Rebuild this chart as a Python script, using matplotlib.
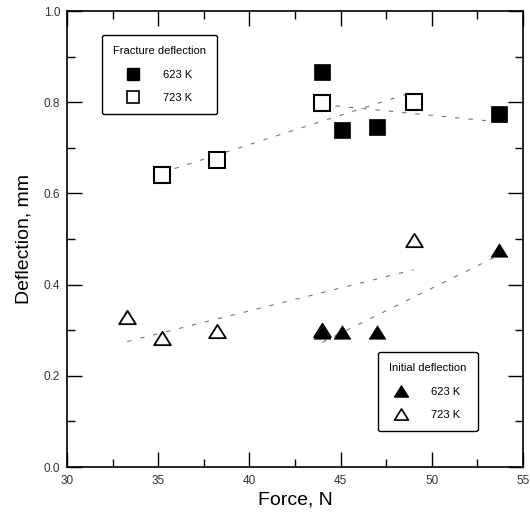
import numpy as np
import matplotlib
matplotlib.use('Agg')
import matplotlib.pyplot as plt
from matplotlib.lines import Line2D
from matplotlib.path import Path

plt.rcParams['font.family'] = ['Liberation Sans', 'DejaVu Sans']

# Fracture deflection, squares
frac_623_force = [44.0, 45.1, 47.0, 53.7]
frac_623_defl = [0.866, 0.739, 0.746, 0.774]
frac_723_force = [35.2, 38.2, 44.0, 49.0]
frac_723_defl = [0.640, 0.673, 0.798, 0.800]

# Initial deflection, triangles
init_623_force = [44.0, 45.1, 47.0, 53.7]
init_623_defl = [0.297, 0.297, 0.297, 0.476]
init_723_force = [33.3, 35.2, 38.2, 44.0, 49.0]
init_723_defl = [0.328, 0.284, 0.299, 0.300, 0.498]

xticks = [30, 35, 40, 45, 50, 55]
yticks = [0.0, 0.2, 0.4, 0.6, 0.8, 1.0]

# wide, flat triangle marker
tri = Path([(-1, -0.8), (1, -0.8), (0, 0.8), (-1, -0.8)],
           [Path.MOVETO, Path.LINETO, Path.LINETO, Path.CLOSEPOLY])

fig = plt.figure(figsize=(5.3, 5.15), dpi=100)
ax = fig.add_axes([0.1264, 0.0932, 0.8604, 0.8854])


def fit_line(x, y):
    # linear least-squares fit drawn over the data range
    k, b = np.polyfit(x, y, 1)
    xs = np.linspace(min(x), max(x), 50)
    ax.plot(xs, k * xs + b, color='#777777', lw=0.8, dashes=(4, 8), zorder=1)


fit_line(frac_623_force, frac_623_defl)
fit_line(frac_723_force, frac_723_defl)
fit_line(init_623_force, init_623_defl)
fit_line(init_723_force, init_723_defl)

sq_kw = dict(ls='none', marker='s', ms=11.5)
tri_kw = dict(ls='none', marker=tri, ms=12)

ax.plot(frac_723_force, frac_723_defl, mfc='white', mec='black', mew=1.5, zorder=3, **sq_kw)
ax.plot(frac_623_force, frac_623_defl, mfc='black', mec='black', mew=0.5, zorder=4, **sq_kw)
ax.plot(init_723_force, init_723_defl, mfc='white', mec='black', mew=1.3, zorder=3, **tri_kw)
ax.plot(init_623_force, init_623_defl, mfc='black', mec='black', mew=0.5, zorder=4, **tri_kw)

ax.set_xlim(30, 55)
ax.set_ylim(0, 1.0)
ax.set_xticks(xticks)
ax.set_yticks(yticks)
ax.set_xticks(np.arange(32.5, 55, 5), minor=True)
ax.set_yticks(np.arange(0.1, 1.0, 0.2), minor=True)
ax.tick_params(which='both', direction='in', top=True, right=True,
               labelsize=8.5, labelcolor='#333333', width=1.0)
ax.tick_params(axis='x', which='major', length=11, pad=6)
ax.tick_params(axis='y', which='major', length=11, pad=5)
ax.tick_params(which='minor', length=5.5)
for s in ax.spines.values():
    s.set_linewidth(1.2)

ax.set_xlabel('Force, N', fontsize=14, labelpad=3)
ax.set_ylabel('Deflection, mm', fontsize=14, labelpad=8)

leg_kw = dict(fontsize=8, title_fontsize=8, frameon=True, fancybox=True,
              edgecolor='black', framealpha=1, handletextpad=2.2,
              labelspacing=1.2, borderpad=1.0, handlelength=1.0,
              borderaxespad=0, markerfirst=True)

sq_leg = dict(ls='none', marker='s', ms=9)
tri_leg = dict(ls='none', marker=tri, ms=10)

h1 = [Line2D([], [], mfc='black', mec='black', **sq_leg),
      Line2D([], [], mfc='white', mec='black', mew=1.2, **sq_leg)]
leg1 = ax.legend(h1, ['623 K', '723 K'], title='Fracture deflection',
                 loc='upper left', bbox_to_anchor=(0.077, 0.947), **leg_kw)
leg1.get_frame().set_linewidth(1.0)
ax.add_artist(leg1)

h2 = [Line2D([], [], mfc='black', mec='black', **tri_leg),
      Line2D([], [], mfc='white', mec='black', mew=1.2, **tri_leg)]
leg2 = ax.legend(h2, ['623 K', '723 K'], title='Initial deflection',
                 loc='upper left', bbox_to_anchor=(0.682, 0.252), **leg_kw)
leg2.get_frame().set_linewidth(1.0)

fig.savefig('out.png', dpi=100)
